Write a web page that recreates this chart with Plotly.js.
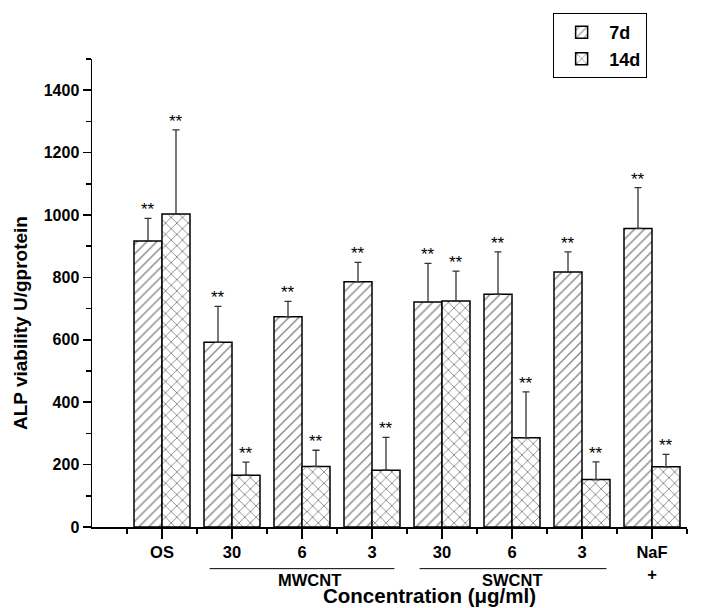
<!DOCTYPE html>
<html><head><meta charset="utf-8">
<script src="https://cdn.plot.ly/plotly-3.0.1.min.js"></script>
<style>html,body{margin:0;padding:0;background:#fff}#chart{width:721px;height:608px}</style>
</head><body><div id="chart"></div>
<script>
const positions = [0,1,2,3,4,5,6,7];
const tickLabels = ['OS','30','6','3','30','6','3','NaF<br>+'];
const groupLabels = ['MWCNT','SWCNT'];
const groupSpans = [[0.68,3.32],[3.68,6.35]];
const groupCenters = [2.1,5.0];
const d7 = [917, 592, 674, 786, 721, 746, 817, 957];
const d7err = [72, 115, 49, 62, 124, 136, 65, 131];
const d14 = [1003, 166, 194, 182, 724, 286, 152, 193];
const d14err = [270, 42, 52, 105, 96, 147, 57, 40];
const sig7 = ['**','**','**','**','**','**','**','**'];
const sig14 = ['**','**','**','**','**','**','**','**'];
const xTitle = 'Concentration (μg/ml)';
const yTitle = 'ALP viability U/gprotein';

const font = {family:'Liberation Sans, Arial, sans-serif', color:'#000'};
const zeros = positions.map(()=>0);
const traces = [
 {type:'bar', name:'7d', x:positions, y:d7,
  marker:{color:'#fff', line:{color:'#000', width:1.5},
   pattern:{shape:'/', fgcolor:'#000', bgcolor:'#fff', size:7, solidity:0.18, fillmode:'overlay'}},
  error_y:{type:'data', symmetric:false, array:d7err, arrayminus:zeros, color:'#333', thickness:1.3, width:3.5}},
 {type:'bar', name:'14d', x:positions, y:d14,
  marker:{color:'#fff', line:{color:'#000', width:1.5},
   pattern:{shape:'x', fgcolor:'#000', bgcolor:'#fff', size:8, solidity:0.2, fillmode:'overlay'}},
  error_y:{type:'data', symmetric:false, array:d14err, arrayminus:zeros, color:'#333', thickness:1.3, width:3.5}}
];
const annotations = [];
positions.forEach((p,i)=>{
  annotations.push({x:p, y:d7[i]+d7err[i], xref:'x', yref:'y', text:sig7[i], showarrow:false,
    xshift:-14, yanchor:'bottom', yshift:-3, font:{...font, size:17}});
  annotations.push({x:p, y:d14[i]+d14err[i], xref:'x', yref:'y', text:sig14[i], showarrow:false,
    xshift:14, yanchor:'bottom', yshift:-3, font:{...font, size:17}});
});
groupLabels.forEach((g,i)=>{
  annotations.push({x:groupCenters[i], y:-0.113, xref:'x', yref:'paper', text:g, showarrow:false,
    yanchor:'middle', borderpad:0, font:{...font, size:16.5, weight:'bold'}});
});
annotations.push({x:0.568, y:-0.147, xref:'paper', yref:'paper', text:xTitle, showarrow:false,
  xanchor:'center', yanchor:'middle', borderpad:0, font:{...font, size:20.5, weight:'bold'}});
annotations.push({x:-0.12, y:0.435, xref:'paper', yref:'paper', text:yTitle, showarrow:false, textangle:-90,
  xanchor:'center', yanchor:'middle', font:{...font, size:19, weight:'bold'}});
const shapes = groupSpans.map(s=>({type:'line', xref:'x', yref:'paper', x0:s[0], x1:s[1], y0:-0.089, y1:-0.089,
  line:{color:'#000', width:1}}));

const layout = {
  width:721, height:608,
  margin:{l:92, r:34, t:59, b:81},
  paper_bgcolor:'#fff', plot_bgcolor:'#fff',
  font:font,
  barmode:'group', bargap:0.2, bargroupgap:0,
  showlegend:true,
  legend:{x:0.775, y:1.098, xanchor:'left', yanchor:'top', bordercolor:'#000', borderwidth:1,
    bgcolor:'#fff', font:{...font, size:18, weight:'bold'}, tracegroupgap:0, itemwidth:45},
  xaxis:{range:[-1,7.5], tickmode:'array', tickvals:positions, ticktext:tickLabels,
    showline:true, linecolor:'#000', linewidth:1.5, ticks:'outside', ticklen:10, tickwidth:1.5, tickcolor:'#000',
    showgrid:false, zeroline:false, tickfont:{...font, size:16.5, weight:'bold'},
    minor:{tickmode:'linear', tick0:0.5, dtick:1, ticks:'outside', ticklen:5, tickwidth:1.5, tickcolor:'#000'}},
  yaxis:{range:[0,1500], tickmode:'array', tickvals:[0,200,400,600,800,1000,1200,1400],
    showline:true, linecolor:'#000', linewidth:1.5, ticks:'outside', ticklen:8, tickwidth:1.5, tickcolor:'#000',
    showgrid:false, zeroline:false, tickfont:{...font, size:16, weight:'bold'},
    minor:{tickmode:'linear', tick0:100, dtick:200, ticks:'outside', ticklen:5, tickwidth:1.5, tickcolor:'#000'}},
  annotations:annotations, shapes:shapes
};
Plotly.newPlot('chart', traces, layout, {displayModeBar:false, staticPlot:true});
</script></body></html>
